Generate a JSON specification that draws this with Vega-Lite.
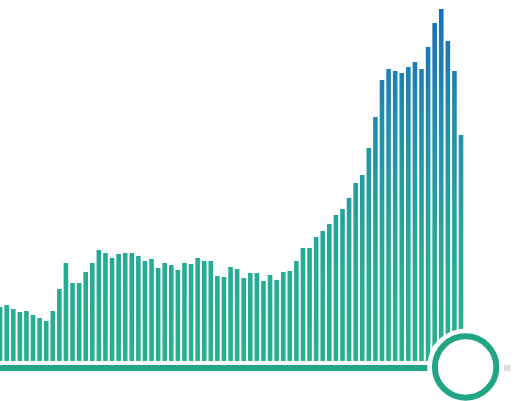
{
  "$schema": "https://vega.github.io/schema/vega-lite/v6.json",
  "width": 525,
  "height": 401,
  "padding": 0,
  "autosize": {"type": "none"},
  "config": {"view": {"stroke": null}, "axis": {"grid": false, "domain": false, "ticks": false, "labels": false, "title": null}},
  "datasets": {
    "bars": [
      {"k":0,"v":54},{"k":1,"v":56},{"k":2,"v":52},{"k":3,"v":49},{"k":4,"v":50},
      {"k":5,"v":46},{"k":6,"v":43},{"k":7,"v":40},{"k":8,"v":50},{"k":9,"v":72},
      {"k":10,"v":98},{"k":11,"v":78},{"k":12,"v":78},{"k":13,"v":89},{"k":14,"v":98},
      {"k":15,"v":111},{"k":16,"v":108},{"k":17,"v":103},{"k":18,"v":107},{"k":19,"v":108},
      {"k":20,"v":108},{"k":21,"v":105},{"k":22,"v":100},{"k":23,"v":102},{"k":24,"v":93},
      {"k":25,"v":98},{"k":26,"v":96},{"k":27,"v":91},{"k":28,"v":98},{"k":29,"v":97},
      {"k":30,"v":103},{"k":31,"v":100},{"k":32,"v":100},{"k":33,"v":85},{"k":34,"v":84},
      {"k":35,"v":94},{"k":36,"v":92},{"k":37,"v":83},{"k":38,"v":88},{"k":39,"v":88},
      {"k":40,"v":80},{"k":41,"v":86},{"k":42,"v":81},{"k":43,"v":89},{"k":44,"v":90},
      {"k":45,"v":100},{"k":46,"v":113},{"k":47,"v":113},{"k":48,"v":124},{"k":49,"v":130},
      {"k":50,"v":137},{"k":51,"v":146},{"k":52,"v":152},{"k":53,"v":163},{"k":54,"v":178},
      {"k":55,"v":186},{"k":56,"v":213},{"k":57,"v":244},{"k":58,"v":281},{"k":59,"v":292},
      {"k":60,"v":290},{"k":61,"v":288},{"k":62,"v":294},{"k":63,"v":299},{"k":64,"v":292},
      {"k":65,"v":314},{"k":66,"v":338},{"k":67,"v":352},{"k":68,"v":320},{"k":69,"v":290},
      {"k":70,"v":226}
    ],
    "track": [
      {"part":"played","start":-0.5,"end":70.7},
      {"part":"rest","start":70.7,"end":77.5}
    ],
    "handle": [{"pos":70.7}]
  },
  "layer": [
    {
      "data": {"name": "bars"},
      "mark": {
        "type": "bar",
        "size": 4.6,
        "fill": {
          "gradient": "linear",
          "x1": 0, "y1": 1, "x2": 0, "y2": 0,
          "stops": [
            {"offset": 0, "color": "#27b18d"},
            {"offset": 0.3, "color": "#26aa97"},
            {"offset": 0.62, "color": "#2192ab"},
            {"offset": 1, "color": "#1a6bbc"}
          ]
        }
      },
      "encoding": {
        "x": {"field": "k", "type": "quantitative", "scale": {"domain": [-0.5, 70.5], "range": [-3.19, 464.3], "nice": false, "zero": false, "padding": 0}, "axis": null},
        "y": {"datum": 361, "type": "quantitative", "scale": {"domain": [0, 361], "range": [361, 0], "nice": false, "zero": false, "padding": 0}, "axis": null},
        "y2": {"datum": 0}
      }
    },
    {
      "data": {"name": "bars"},
      "mark": {"type": "bar", "size": 6.2, "fill": "#ffffff"},
      "encoding": {
        "x": {"field": "k", "type": "quantitative", "axis": null},
        "y": {"field": "v", "type": "quantitative", "axis": null},
        "y2": {"datum": 361}
      }
    },
    {
      "data": {"name": "track"},
      "mark": {"type": "rule", "strokeWidth": 6, "strokeCap": "butt"},
      "encoding": {
        "x": {"field": "start", "type": "quantitative", "axis": null},
        "x2": {"field": "end"},
        "y": {"datum": -7, "type": "quantitative", "axis": null},
        "color": {"field": "part", "type": "nominal", "scale": {"domain": ["played", "rest"], "range": ["#22a584", "#dcdcdc"]}, "legend": null}
      }
    },
    {
      "data": {"name": "handle"},
      "mark": {"type": "point", "shape": "circle", "filled": true, "size": 5929, "fill": "#ffffff", "opacity": 1, "strokeWidth": 0},
      "encoding": {
        "x": {"field": "pos", "type": "quantitative", "axis": null},
        "y": {"datum": -6, "type": "quantitative", "axis": null}
      }
    },
    {
      "data": {"name": "handle"},
      "mark": {"type": "point", "shape": "circle", "filled": false, "size": 3782, "fill": "#ffffff", "fillOpacity": 1, "stroke": "#22a584", "strokeWidth": 6, "opacity": 1},
      "encoding": {
        "x": {"field": "pos", "type": "quantitative", "axis": null},
        "y": {"datum": -6, "type": "quantitative", "axis": null}
      }
    }
  ]
}
